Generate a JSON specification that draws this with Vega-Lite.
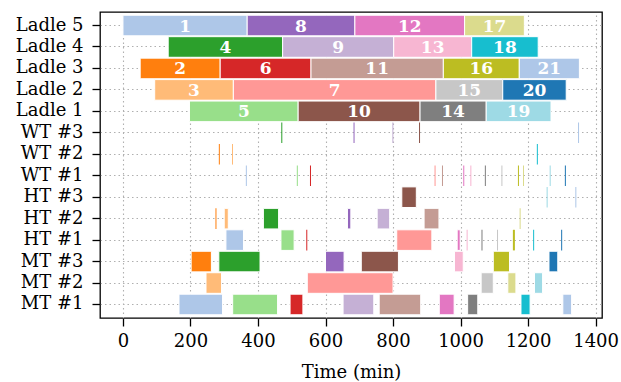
{
  "$schema": "https://vega.github.io/schema/vega-lite/v6.json",
  "width": 502,
  "height": 306,
  "autosize": {"type": "none"},
  "padding": {"left": 100, "top": 12, "right": 19, "bottom": 64},
  "config": {
    "font": "DejaVu Serif",
    "view": {"stroke": "#000000", "strokeWidth": 1.3},
    "axis": {
      "domain": false,
      "labelFont": "DejaVu Serif",
      "labelFontSize": 18,
      "labelColor": "#000000",
      "tickColor": "#000000",
      "tickWidth": 1.3,
      "tickSize": 8,
      "grid": true,
      "gridColor": "#b0b0b0",
      "gridDash": [1.5, 3],
      "gridWidth": 1.1,
      "titleFont": "DejaVu Serif",
      "titleFontSize": 18,
      "titleFontWeight": "normal",
      "titleColor": "#000000"
    }
  },
  "data": {
    "values": [
      {"job": 1, "res": "Ladle 5", "start": 0, "end": 368},
      {"job": 8, "res": "Ladle 5", "start": 368, "end": 687},
      {"job": 12, "res": "Ladle 5", "start": 687, "end": 1012},
      {"job": 17, "res": "Ladle 5", "start": 1012, "end": 1189},
      {"job": 4, "res": "Ladle 4", "start": 134, "end": 473},
      {"job": 9, "res": "Ladle 4", "start": 473, "end": 802},
      {"job": 13, "res": "Ladle 4", "start": 802, "end": 1033},
      {"job": 18, "res": "Ladle 4", "start": 1033, "end": 1230},
      {"job": 2, "res": "Ladle 3", "start": 51, "end": 288},
      {"job": 6, "res": "Ladle 3", "start": 288, "end": 557},
      {"job": 11, "res": "Ladle 3", "start": 557, "end": 949},
      {"job": 16, "res": "Ladle 3", "start": 949, "end": 1174},
      {"job": 21, "res": "Ladle 3", "start": 1174, "end": 1352},
      {"job": 3, "res": "Ladle 2", "start": 94, "end": 327},
      {"job": 7, "res": "Ladle 2", "start": 327, "end": 927},
      {"job": 15, "res": "Ladle 2", "start": 927, "end": 1125},
      {"job": 20, "res": "Ladle 2", "start": 1125, "end": 1313},
      {"job": 5, "res": "Ladle 1", "start": 197, "end": 519},
      {"job": 10, "res": "Ladle 1", "start": 519, "end": 880},
      {"job": 14, "res": "Ladle 1", "start": 880, "end": 1076},
      {"job": 19, "res": "Ladle 1", "start": 1076, "end": 1268},

      {"job": 4, "res": "WT #3", "start": 469, "end": 472},
      {"job": 8, "res": "WT #3", "start": 683, "end": 686},
      {"job": 9, "res": "WT #3", "start": 798, "end": 801},
      {"job": 10, "res": "WT #3", "start": 877, "end": 880},
      {"job": 21, "res": "WT #3", "start": 1348, "end": 1351},
      {"job": 2, "res": "WT #2", "start": 284, "end": 287},
      {"job": 3, "res": "WT #2", "start": 323, "end": 326},
      {"job": 18, "res": "WT #2", "start": 1226, "end": 1229},
      {"job": 1, "res": "WT #1", "start": 364, "end": 367},
      {"job": 5, "res": "WT #1", "start": 515, "end": 518},
      {"job": 6, "res": "WT #1", "start": 554, "end": 557},
      {"job": 7, "res": "WT #1", "start": 923, "end": 926},
      {"job": 11, "res": "WT #1", "start": 945, "end": 948},
      {"job": 12, "res": "WT #1", "start": 1008, "end": 1011},
      {"job": 13, "res": "WT #1", "start": 1029, "end": 1032},
      {"job": 14, "res": "WT #1", "start": 1072, "end": 1075},
      {"job": 15, "res": "WT #1", "start": 1121, "end": 1124},
      {"job": 16, "res": "WT #1", "start": 1170, "end": 1173},
      {"job": 17, "res": "WT #1", "start": 1185, "end": 1188},
      {"job": 19, "res": "WT #1", "start": 1264, "end": 1267},
      {"job": 20, "res": "WT #1", "start": 1309, "end": 1312},

      {"job": 10, "res": "HT #3", "start": 826, "end": 869},
      {"job": 19, "res": "HT #3", "start": 1255, "end": 1258},
      {"job": 21, "res": "HT #3", "start": 1340, "end": 1343},
      {"job": 2, "res": "HT #2", "start": 274, "end": 277},
      {"job": 3, "res": "HT #2", "start": 300, "end": 312},
      {"job": 4, "res": "HT #2", "start": 416, "end": 461},
      {"job": 8, "res": "HT #2", "start": 665, "end": 675},
      {"job": 9, "res": "HT #2", "start": 753, "end": 790},
      {"job": 11, "res": "HT #2", "start": 892, "end": 936},
      {"job": 17, "res": "HT #2", "start": 1175, "end": 1178},
      {"job": 1, "res": "HT #1", "start": 305, "end": 357},
      {"job": 5, "res": "HT #1", "start": 468, "end": 507},
      {"job": 6, "res": "HT #1", "start": 543, "end": 546},
      {"job": 7, "res": "HT #1", "start": 811, "end": 915},
      {"job": 12, "res": "HT #1", "start": 990, "end": 999},
      {"job": 13, "res": "HT #1", "start": 1018, "end": 1021},
      {"job": 14, "res": "HT #1", "start": 1062, "end": 1065},
      {"job": 15, "res": "HT #1", "start": 1108, "end": 1111},
      {"job": 16, "res": "HT #1", "start": 1155, "end": 1161},
      {"job": 18, "res": "HT #1", "start": 1215, "end": 1218},
      {"job": 20, "res": "HT #1", "start": 1298, "end": 1301},

      {"job": 2, "res": "MT #3", "start": 202, "end": 262},
      {"job": 4, "res": "MT #3", "start": 284, "end": 406},
      {"job": 8, "res": "MT #3", "start": 600, "end": 655},
      {"job": 10, "res": "MT #3", "start": 706, "end": 816},
      {"job": 13, "res": "MT #3", "start": 982, "end": 1008},
      {"job": 16, "res": "MT #3", "start": 1097, "end": 1145},
      {"job": 20, "res": "MT #3", "start": 1262, "end": 1288},
      {"job": 3, "res": "MT #2", "start": 246, "end": 292},
      {"job": 7, "res": "MT #2", "start": 546, "end": 800},
      {"job": 15, "res": "MT #2", "start": 1061, "end": 1097},
      {"job": 17, "res": "MT #2", "start": 1140, "end": 1164},
      {"job": 19, "res": "MT #2", "start": 1219, "end": 1243},
      {"job": 1, "res": "MT #1", "start": 166, "end": 295},
      {"job": 5, "res": "MT #1", "start": 325, "end": 458},
      {"job": 6, "res": "MT #1", "start": 495, "end": 533},
      {"job": 9, "res": "MT #1", "start": 652, "end": 743},
      {"job": 11, "res": "MT #1", "start": 759, "end": 882},
      {"job": 12, "res": "MT #1", "start": 937, "end": 981},
      {"job": 14, "res": "MT #1", "start": 1021, "end": 1051},
      {"job": 18, "res": "MT #1", "start": 1179, "end": 1206},
      {"job": 21, "res": "MT #1", "start": 1303, "end": 1329}
    ]
  },
  "encoding": {
    "y": {
      "field": "res",
      "type": "nominal",
      "sort": ["Ladle 5", "Ladle 4", "Ladle 3", "Ladle 2", "Ladle 1", "WT #3", "WT #2", "WT #1", "HT #3", "HT #2", "HT #1", "MT #3", "MT #2", "MT #1"],
      "scale": {"paddingInner": 0.04, "paddingOuter": 0.15},
      "axis": {"title": null, "bandPosition": 0.5, "labelPadding": 9}
    }
  },
  "layer": [
    {
      "transform": [{"filter": "datum.end - datum.start > 6"}],
      "mark": {"type": "bar", "stroke": "#ffffff", "strokeWidth": 1},
      "encoding": {
        "x": {
          "field": "start",
          "type": "quantitative",
          "scale": {"domain": [-68, 1419], "nice": false, "zero": false},
          "axis": {
            "title": "Time (min)",
            "titleFontWeight": "normal",
            "format": "d",
            "values": [0, 200, 400, 600, 800, 1000, 1200, 1400],
            "labelPadding": 6,
            "titlePadding": 13
          }
        },
        "x2": {"field": "end"},
        "color": {
          "field": "job",
          "type": "nominal",
          "scale": {
            "domain": [1, 2, 3, 4, 5, 6, 7, 8, 9, 10, 11, 12, 13, 14, 15, 16, 17, 18, 19, 20, 21],
            "range": ["#aec7e8", "#ff7f0e", "#ffbb78", "#2ca02c", "#98df8a", "#d62728", "#ff9896", "#9467bd", "#c5b0d5", "#8c564b", "#c49c94", "#e377c2", "#f7b6d2", "#7f7f7f", "#c7c7c7", "#bcbd22", "#dbdb8d", "#17becf", "#9edae5", "#1f77b4", "#aec7e8"]
          },
          "legend": null
        }
      }
    },
    {
      "transform": [{"filter": "datum.end - datum.start <= 6"}],
      "mark": {"type": "bar"},
      "encoding": {
        "x": {"field": "start", "type": "quantitative"},
        "x2": {"field": "end"},
        "color": {"field": "job", "type": "nominal", "legend": null}
      }
    },
    {
      "transform": [
        {"filter": "indexof(datum.res, 'Ladle') === 0"},
        {"calculate": "(datum.start + datum.end) / 2", "as": "centre"}
      ],
      "mark": {"type": "text", "color": "#ffffff", "fontSize": 17, "fontWeight": "bold", "font": "DejaVu Serif", "align": "center", "baseline": "middle", "dy": 1},
      "encoding": {
        "x": {"field": "centre", "type": "quantitative"},
        "text": {"field": "job", "type": "nominal"}
      }
    }
  ]
}
